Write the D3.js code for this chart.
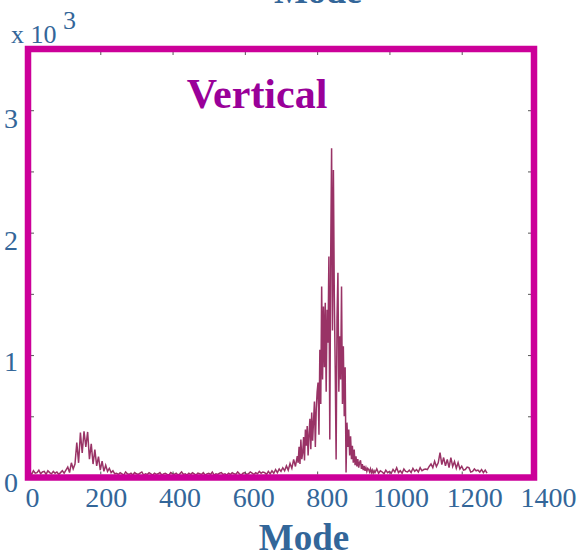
<!DOCTYPE html>
<html><head><meta charset="utf-8">
<script src="https://cdn.jsdelivr.net/npm/d3@7"></script>
<style>body{margin:0;background:#fff}svg{display:block}</style>
</head><body>
<svg id="chart" width="578" height="555"></svg>
<script>
// ---- data ----
const xTickValues = [0, 200, 400, 600, 800, 1000, 1200, 1400];
const yTickValues = [0, 1000, 2000, 3000];
const yTickLabels = ["0", "1", "2", "3"];
// segment 1: modes 0..745, step 5
const lowStart = 0, lowStep = 5;
const lowCounts = [
  30,45,25,55,35,40,60,30,45,50,25,55,40,30,50,35,45,25,40,55,35,
  60,85,40,120,70,110,
  285,120,367,200,378,250,372,150,275,110,228,95,170,60,133,50,100,50,75,40,55,30,
  35,25,40,30,20,45,30,25,35,20,40,30,25,35,45,20,30,25,40,30,
  20,35,25,30,40,20,30,35,25,20,40,30,25,35,20,30,45,25,30,20,
  35,25,40,30,20,35,30,25,40,20,30,35,25,45,20,30,25,35,40,25,
  30,20,35,25,40,30,25,45,30,20,35,40,25,30,45,35,25,40,30,50,
  35,45,
  40,25,50,30,55,35,65,40,70,50,80,55,95,60,114,75,147,90,174
];
// segment 2: modes 747.5..957.5, step 2.5 (main peak)
const peakStart = 747.5, peakStep = 2.5;
const peakCounts = [
  120,250,110,310,150,200,330,140,391,260,420,180,350,480,230,530,300,460,620,250,
  560,700,775,350,1044,600,1560,800,1397,900,1427,700,1370,1100,1805,310,1805,2689,1200,2512,
  1479,900,147,1300,1672,700,1153,800,1560,600,1071,500,900,40,448,250,391,180,337,150,
  260,120,228,100,174,90,150,80,122,140,70,110,60,95,55,80,50,75,65,45,
  70,40,60,35,55
];
// segment 3: modes 960..1270, step 5
const highStart = 960, highStep = 5;
const highCounts = [
  40,70,35,55,45,30,60,40,50,35,65,45,80,40,55,35,70,50,45,60,40,75,50,65,45,80,55,65,70,
  65,90,110,80,133,90,120,204,106,163,95,147,80,163,90,130,75,122,70,92,60,65,85,80,45,50,70,55,60,45,65,40,60,35
];
const titleText = "Mode";
const xTitle = "Mode";
const panelLabel = "Vertical";

// ---- style ----
const blue = "#336699";
const frameColor = "#CC0099";
const lineColor = "#993366";
const serif = "'Liberation Serif', 'Times New Roman', serif";

const svg = d3.select("#chart");
const L = 28, R = 534, T = 49, B = 477.5;
const x = d3.scaleLinear().domain([0, 1400]).range([L, R]);
const y = d3.scaleLinear().domain([0, 3500]).range([B, T]);

const seg = (start, step, arr) => arr.map((c, i) => [start + i * step, c]);
const pts = [].concat(seg(lowStart, lowStep, lowCounts),
                      seg(peakStart, peakStep, peakCounts),
                      seg(highStart, highStep, highCounts));
const line = d3.line().x(d => x(d[0])).y(d => y(d[1]));
svg.append("path").datum(pts).attr("d", line)
  .attr("fill", "none").attr("stroke", lineColor).attr("stroke-width", 1.5)
  .attr("stroke-linejoin", "miter");

// inner tick marks
const tickStyle = g => { g.select(".domain").remove(); g.selectAll("text").remove();
  g.selectAll("line").attr("stroke", "#555").attr("stroke-width", 1); };
svg.append("g").attr("transform", `translate(0,${B - 3})`)
  .call(d3.axisTop(x).tickValues(xTickValues).tickSize(3)).call(tickStyle);
svg.append("g").attr("transform", `translate(0,${T + 3})`)
  .call(d3.axisBottom(x).tickValues(xTickValues).tickSize(3)).call(tickStyle);
const yMinor = d3.range(500, 3500, 500);
svg.append("g").attr("transform", `translate(${L + 3},0)`)
  .call(d3.axisRight(y).tickValues(yMinor).tickSize(3)).call(tickStyle);
svg.append("g").attr("transform", `translate(${R - 3},0)`)
  .call(d3.axisLeft(y).tickValues(yMinor).tickSize(3)).call(tickStyle);

// frame
svg.append("rect").attr("x", L).attr("y", T).attr("width", R - L).attr("height", B - T)
  .attr("fill", "none").attr("stroke", frameColor).attr("stroke-width", 6.5);

// tick labels
const xl = d3.scaleLinear().domain([0, 1400]).range([32, 548]);
svg.append("g").attr("transform", "translate(0,497)")
  .call(d3.axisBottom(xl).tickValues(xTickValues).tickSize(0).tickFormat(d3.format("d")))
  .call(g => { g.select(".domain").remove(); g.attr("font-family", null).attr("font-size", null); })
  .call(g => g.selectAll("text").attr("y", 0).attr("dy", "0.35em")
    .attr("fill", blue).attr("font-size", 28).attr("font-family", serif));

const yl = d3.scaleLinear().domain([0, 3000]).range([482, 118]);
svg.append("g").attr("transform", "translate(18,0)")
  .call(d3.axisLeft(yl).tickValues(yTickValues).tickSize(0).tickFormat((d, i) => yTickLabels[i]))
  .call(g => { g.select(".domain").remove(); g.attr("font-family", null).attr("font-size", null); })
  .call(g => g.selectAll("text").attr("x", 0).attr("dy", "0.35em")
    .attr("fill", blue).attr("font-size", 28).attr("font-family", serif));

// multiplier
const mult = svg.append("text").attr("x", 11).attr("y", 43).attr("fill", blue)
  .attr("font-family", serif).attr("font-size", 26);
mult.append("tspan").text("x 10");
mult.append("tspan").attr("x", 63).attr("y", 29).text("3");

// titles
svg.append("text").attr("x", 318).attr("y", 3).attr("text-anchor", "middle")
  .attr("fill", blue).attr("font-family", serif).attr("font-weight", "bold").attr("font-size", 36)
  .text(titleText);
svg.append("text").attr("x", 304).attr("y", 550).attr("text-anchor", "middle")
  .attr("fill", blue).attr("font-family", serif).attr("font-weight", "bold").attr("font-size", 37)
  .text(xTitle);
svg.append("text").attr("x", 257).attr("y", 108).attr("text-anchor", "middle")
  .attr("fill", "#990099").attr("font-family", serif).attr("font-weight", "bold").attr("font-size", 42)
  .text(panelLabel);
</script>
</body></html>
